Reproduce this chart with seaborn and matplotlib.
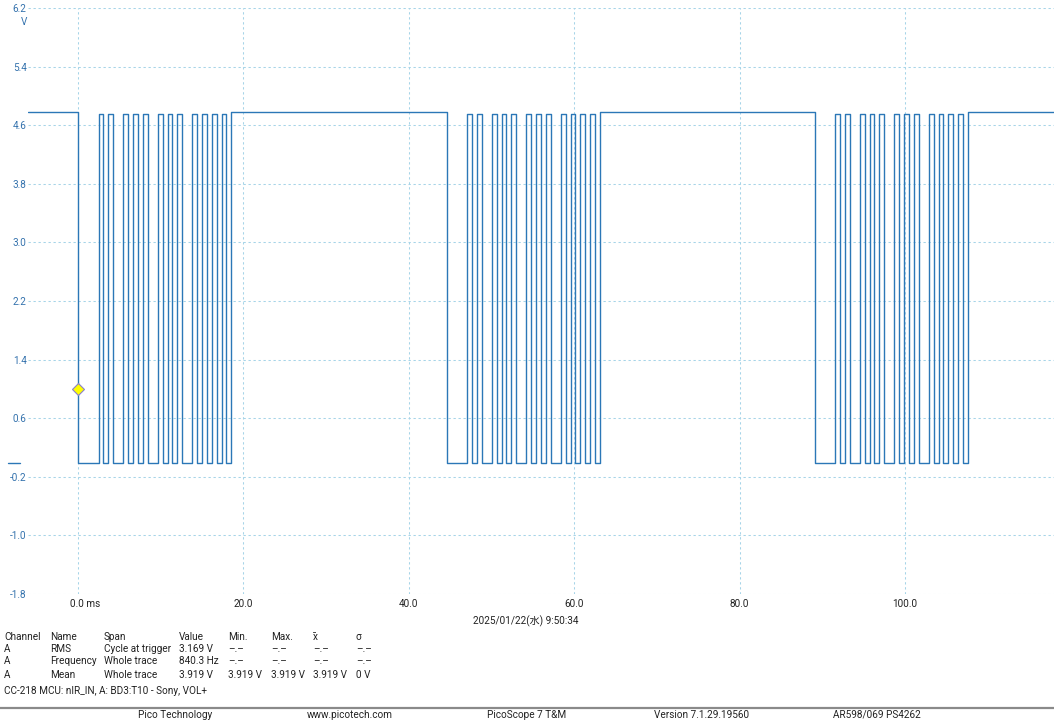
import numpy as np
import pandas as pd
import matplotlib
matplotlib.use("Agg")
import matplotlib.pyplot as plt
import matplotlib.transforms as mtransforms
import seaborn as sns

# --- capture data (Sony SIRC frame, VOL+ : command 18, device 1) ---
burst_starts_ms = [0.0, 44.55, 89.05]
sony_bits = [0, 1, 0, 0, 1, 0, 0, 1, 0, 0, 0, 0]
start_mark_ms = 2.5
space_ms = 0.56
short_mark_ms = 0.62
long_mark_ms = 1.25
idle_high_v = 4.78
pulse_high_v = 4.75
low_v = -0.01
trace_start_ms = -6.05
trace_end_ms = 118.0
trigger_ms = 0.0
trigger_v = 1.0

x_ticks = [0, 20, 40, 60, 80, 100]
x_tick_labels = ["0.0 ms", "20.0", "40.0", "60.0", "80.0", "100.0"]
y_ticks = [-1.8, -1.0, -0.2, 0.6, 1.4, 2.2, 3.0, 3.8, 4.6, 5.4, 6.2]
y_tick_labels = ["-1.8", "-1.0", "-0.2", "0.6", "1.4", "2.2", "3.0", "3.8", "4.6", "5.4", "6.2"]

meas_header = ["Channel", "Name", "Span", "Value", "Min.", "Max.", "x\u0304", "σ"]
meas_rows = [
    ["A", "RMS", "Cycle at trigger", "3.169 V", "–.–", "–.–", "–.–", "–.–"],
    ["A", "Frequency", "Whole trace", "840.3 Hz", "–.–", "–.–", "–.–", "–.–"],
    ["A", "Mean", "Whole trace", "3.919 V", "3.919 V", "3.919 V", "3.919 V", "0 V"],
]
caption = "CC-218 MCU: nIR_IN, A: BD3:T10 - Sony, VOL+"
timestamp = "2025/01/22(水) 9:50:34"
footer_items = ["Pico Technology", "www.picotech.com", "PicoScope 7 T&M",
                "Version 7.1.29.19560", "AR598/069 PS4262"]

# --- build the step trace from the pulse timings ---
t = [trace_start_ms]
v = [idle_high_v]
for t0 in burst_starts_ms:
    t.append(t0)
    v.append(low_v)
    tc = t0 + start_mark_ms
    for b in sony_bits:
        t.append(tc)
        v.append(pulse_high_v)
        tc += space_ms
        t.append(tc)
        v.append(low_v)
        tc += long_mark_ms if b else short_mark_ms
    t.append(tc)
    v.append(idle_high_v)
t.append(trace_end_ms)
v.append(idle_high_v)
trace = pd.DataFrame({"time_ms": t, "volts": v})

sns.set_style("white")
plt.rcParams["font.family"] = ["Roboto", "DejaVu Sans"]

W, H = 1054, 720
fs = 7.2
fig = plt.figure(figsize=(W / 100, H / 100), dpi=100)
ax = fig.add_axes([28 / W, 1 - 594 / H, 1026 / W, 586 / H])

trace_color = "#2b77b7"
blue_text = "#3472ad"
grid_color = "#a6d4e8"

sns.lineplot(data=trace, x="time_ms", y="volts", ax=ax, drawstyle="steps-post",
             sort=False, estimator=None, color=trace_color, linewidth=1.0)

ax.plot([trigger_ms], [trigger_v], marker="D", markersize=6.6,
        markerfacecolor="#ffff00", markeredgecolor="#8a80cc", markeredgewidth=0.8,
        linestyle="none", zorder=5)

ax.set_xlim(trace_start_ms, trace_end_ms)
ax.set_ylim(-1.8, 6.2)
ax.set_xticks(x_ticks)
ax.set_xticklabels(x_tick_labels)
ax.set_yticks(y_ticks)
ax.set_yticklabels(y_tick_labels)
ax.set_xlabel("")
ax.set_ylabel("")
ax.tick_params(axis="x", length=0, pad=3.5, labelsize=fs, labelcolor="#222222")
ax.tick_params(axis="y", length=0, pad=1, labelsize=fs, labelcolor=blue_text)

first = ax.get_xticklabels()[0]
first.set_horizontalalignment("left")
first.set_transform(first.get_transform() + mtransforms.ScaledTranslation(-8 / 100, 0, fig.dpi_scale_trans))

ax.grid(True, color=grid_color, linestyle=(0, (2.2, 2.6)), linewidth=0.75)
ax.set_axisbelow(True)
for s in ax.spines.values():
    s.set_visible(False)

# ground reference marker left of the axis
blend = mtransforms.blended_transform_factory(ax.transAxes, ax.transData)
ax.plot([-20 / 1026, -8 / 1026], [low_v, low_v], color=trace_color, linewidth=1.0,
        transform=blend, clip_on=False)

fig.text(24 / W, 1 - 22 / H, "V", color=blue_text, fontsize=fs, ha="center", va="center")

fig.text(526 / W, 1 - 621 / H, timestamp, fontsize=fs, ha="center", va="center",
         color="#222222", family=["Roboto", "Noto Sans CJK JP"])

col_x = [4, 50, 104, 179, 228, 271, 313, 356]
row_y = [637.5, 648.5, 661.5, 674.5]
for r, row in enumerate([meas_header] + meas_rows):
    for c, cell in enumerate(row):
        fig.text(col_x[c] / W, 1 - row_y[r] / H, cell, fontsize=fs, ha="left",
                 va="center", color="#222222")

fig.text(4 / W, 1 - 691.5 / H, caption, fontsize=fs, ha="left", va="center", color="#222222")

fig.add_artist(plt.Line2D([0, 1], [1 - 708 / H, 1 - 708 / H], color="#8a8a8a",
                          linewidth=1.6, transform=fig.transFigure))
footer_x = [175, 350, 527, 702, 877]
for fx, item in zip(footer_x, footer_items):
    fig.text(fx / W, 1 - 715 / H, item, fontsize=fs, ha="center", va="center", color="#222222")

fig.savefig("out.png", dpi=100)
